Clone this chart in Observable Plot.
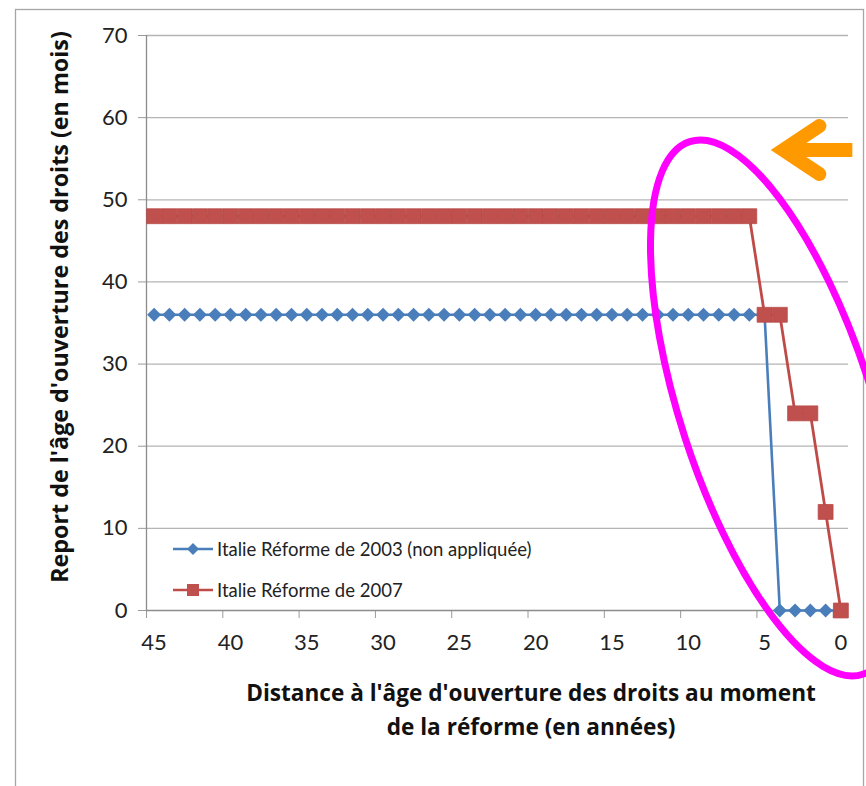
<!DOCTYPE html>
<html><head><meta charset="utf-8">
<script src="https://cdn.jsdelivr.net/npm/d3@7"></script>
<script src="https://cdn.jsdelivr.net/npm/@observablehq/plot@0.6"></script>
<style>body{margin:0;background:#fff} #chart{width:866px;height:786px}</style>
</head><body><div id="chart"></div>
<script>
// Distance to pension-opening age at the time of the reform (years)
const distances = [45,44,43,42,41,40,39,38,37,36,35,34,33,32,31,30,29,28,27,26,25,24,23,22,21,20,19,18,17,16,15,14,13,12,11,10,9,8,7,6,5,4,3,2,1,0];
// Postponement (months)
const reform2003 = [36,36,36,36,36,36,36,36,36,36,36,36,36,36,36,36,36,36,36,36,36,36,36,36,36,36,36,36,36,36,36,36,36,36,36,36,36,36,36,36,36,0,0,0,0,0];
const reform2007 = [48,48,48,48,48,48,48,48,48,48,48,48,48,48,48,48,48,48,48,48,48,48,48,48,48,48,48,48,48,48,48,48,48,48,48,48,48,48,48,48,36,36,24,24,12,0];
const seriesNames = ["Italie Réforme de 2003 (non appliquée)", "Italie Réforme de 2007"];
const xTickLabels = [45,40,35,30,25,20,15,10,5,0];
const xTickBoundaries = [45.5,40.5,35.5,30.5,25.5,20.5,15.5,10.5,5.5,0.5];
const yTicks = [0,10,20,30,40,50,60,70];
const yTitle = "Report de l'âge d'ouverture des droits (en mois)";
const xTitle = ["Distance à l'âge d'ouverture des droits au moment", "de la réforme (en années)"];

const colors = ["#4A7EBB", "#BE4B48"];
const data2003 = distances.map((d, i) => ({d, v: reform2003[i]}));
const data2007 = distances.map((d, i) => ({d, v: reform2007[i]}));
const FONT = "Lato, 'Open Sans', sans-serif";
const TFONT = "'Open Sans', Lato, sans-serif";

const plot = Plot.plot({
  width: 866, height: 786,
  marginLeft: 146, marginRight: 18, marginTop: 35, marginBottom: 176,
  style: {fontFamily: FONT, fontSize: "22px", background: "#fff", overflow: "visible"},
  x: {domain: [45.5, -0.5]},
  y: {domain: [0, 70]},
  marks: [
    Plot.ruleY(yTicks.filter(t => t > 0), {x1: 45.5, x2: -0.5, stroke: "#B4B4B4", strokeWidth: 1.3}),
    Plot.axisY({ticks: yTicks, tickSize: 8, tickPadding: 11, label: null, stroke: "#9A9A9A", fill: "#222", tickFormat: d => String(d)}),
    Plot.axisX({ticks: xTickBoundaries, tickSize: 8, tickFormat: () => "", label: null, stroke: "#9A9A9A"}),
    Plot.axisX({ticks: xTickLabels, tickSize: 0, tickPadding: 24, label: null, fill: "#222", tickFormat: d => String(d)}),
    Plot.ruleX([45.5], {y1: 0, y2: 70, stroke: "#8C8C8C", strokeWidth: 1.3}),
    Plot.ruleY([0], {x1: 45.5, x2: -0.5, stroke: "#8C8C8C", strokeWidth: 1.3}),
    Plot.line(data2003, {x: "d", y: "v", stroke: colors[0], strokeWidth: 2.6}),
    Plot.dot(data2003, {x: "d", y: "v", symbol: "diamond2", r: 6.3, fill: colors[0], stroke: "none"}),
    Plot.line(data2007, {x: "d", y: "v", stroke: colors[1], strokeWidth: 2.8}),
    Plot.dot(data2007, {x: "d", y: "v", symbol: "square", r: 8.4, fill: "#C0504D", stroke: "#B84A47", strokeWidth: 0.8})
  ]
});
document.getElementById("chart").appendChild(plot);

const svg = d3.select(plot);
const xs = plot.scale("x"), ys = plot.scale("y");

// outer chart border
svg.insert("rect", ":first-child").attr("x", 15.5).attr("y", 9.5).attr("width", 848).attr("height", 800)
  .attr("fill", "none").attr("stroke", "#A6A6A6").attr("stroke-width", 1.3);

// axis titles
svg.append("text").attr("transform", `translate(62,307) rotate(-90)`)
  .attr("text-anchor", "middle").attr("dominant-baseline", "middle")
  .attr("font-family", TFONT).attr("font-weight", "bold").attr("font-size", 23.3).attr("fill", "#111").text(yTitle);
xTitle.forEach((t, i) => {
  svg.append("text").attr("x", 531).attr("y", 701 + i * 34).attr("text-anchor", "middle")
    .attr("font-family", TFONT).attr("font-weight", "bold").attr("font-size", 22.6).attr("fill", "#111").text(t);
});

// legend
const leg = svg.append("g").attr("font-family", FONT).attr("font-size", 18.5).attr("fill", "#222").attr("text-anchor", "start");
[549, 590].forEach((y, i) => {
  leg.append("line").attr("x1", 173).attr("x2", 213).attr("y1", y).attr("y2", y).attr("stroke", colors[i]).attr("stroke-width", 2.6);
  if (i === 0) leg.append("path").attr("d", `M193,${y-6}L199,${y}L193,${y+6}L187,${y}Z`).attr("fill", colors[0]);
  else leg.append("rect").attr("x", 187).attr("y", y - 6).attr("width", 12).attr("height", 12).attr("fill", "#C0504D");
  leg.append("text").attr("x", 217).attr("y", y + 6.5).attr("text-anchor", "start").text(seriesNames[i]);
});

// annotations: magenta ellipse around recent cohorts, orange arrow
const cx = xs.apply(4.2), cy = ys.apply(24.6);
svg.append("ellipse").attr("cx", 0).attr("cy", 0).attr("rx", 280).attr("ry", 96)
  .attr("transform", `translate(${cx},${cy}) rotate(72)`)
  .attr("fill", "none").attr("stroke", "#FF00FF").attr("stroke-width", 7);
const ax = xs.apply(4.85), ay = ys.apply(56);
const arrow = svg.append("g").attr("stroke", "#FF9900").attr("fill", "none");
arrow.append("path").attr("d", `M${ax+53},${ay-24}L${ax+17},${ay}L${ax+53},${ay+24}`)
  .attr("stroke-width", 14).attr("stroke-linecap", "round").attr("stroke-linejoin", "miter").attr("stroke-miterlimit", 6);
arrow.append("line").attr("x1", ax + 22).attr("x2", ax + 86).attr("y1", ay).attr("y2", ay).attr("stroke-width", 14);
</script></body></html>
